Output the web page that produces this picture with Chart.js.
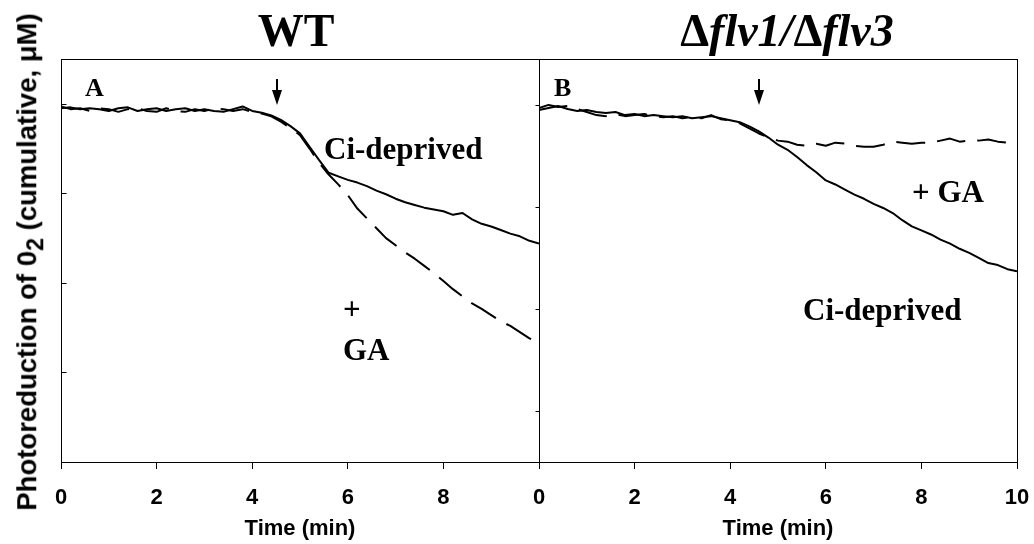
<!DOCTYPE html>
<html>
<head>
<meta charset="utf-8">
<script src="https://cdn.jsdelivr.net/npm/chart.js@4.4.1/dist/chart.umd.min.js"></script>
<style>
  html, body { margin: 0; padding: 0; background: #fff; }
  #wrap { position: relative; width: 1034px; height: 544px; overflow: hidden; }
  canvas { position: absolute; top: 0; }
  #cv-wt { left: 0; }
  #cv-mut { left: 519px; }
  .lbl { position: absolute; white-space: nowrap; line-height: 1; color: #000;
         font-family: "Liberation Serif", "Times New Roman", serif; font-weight: bold; }
  .ttl { font-size: 46px; transform: translateX(-50%); }
  .note { font-size: 31px; }
  .panel { font-size: 26px; }
  #ylab { position: absolute; left: 27px; top: 262px; transform: translate(-50%, -50%) rotate(-90deg);
          font-family: "Liberation Sans", Arial, sans-serif; font-weight: bold; font-size: 27.5px;
          line-height: 1; white-space: nowrap; color: #000; }
  #ylab .sub { font-size: 0.85em; position: relative; top: 0.3em; }
</style>
</head>
<body>
<div id="wrap">
  <canvas id="cv-wt" width="560" height="544"></canvas>
  <canvas id="cv-mut" width="515" height="544"></canvas>

  <div id="ylab">Photoreduction of 0<span class="sub">2</span> (cumulative, μM)</div>
  <div class="lbl ttl" style="left:296px;top:8px">WT</div>
  <div class="lbl ttl" style="left:787px;top:8px">Δ<i>flv1/</i>Δ<i>flv3</i></div>
  <div class="lbl panel" style="left:85px;top:75px">A</div>
  <div class="lbl panel" style="left:554px;top:75px">B</div>
  <div class="lbl note" style="left:324px;top:133px">Ci-deprived</div>
  <div class="lbl note" style="left:343px;top:293px">+</div>
  <div class="lbl note" style="left:343px;top:334px">GA</div>
  <div class="lbl note" style="left:912px;top:176px">+ GA</div>
  <div class="lbl note" style="left:803px;top:294px">Ci-deprived</div>
</div>

<script>
// time axis (min)
const timeMin = [0, 0.2, 0.4, 0.6, 0.8, 1, 1.2, 1.4, 1.6, 1.8, 2, 2.2, 2.4, 2.6, 2.8, 3, 3.2, 3.4, 3.6, 3.8,
  4, 4.2, 4.4, 4.6, 4.8, 5, 5.2, 5.4, 5.6, 5.8, 6, 6.2, 6.4, 6.6, 6.8, 7, 7.2, 7.4, 7.6, 7.8,
  8, 8.2, 8.4, 8.6, 8.8, 9, 9.2, 9.4, 9.6, 9.8, 10];

// WT panel (A)
const wtCiDeprived = [3.95, 3.96, 3.94, 3.95, 3.94, 3.92, 3.95, 3.96, 3.92, 3.94, 3.95, 3.92, 3.94, 3.95, 3.92, 3.94, 3.92, 3.91, 3.94, 3.97,
  3.92, 3.90, 3.87, 3.82, 3.75, 3.67, 3.52, 3.37, 3.23, 3.19, 3.15, 3.12, 3.08, 3.03, 2.99, 2.94, 2.90, 2.87, 2.84, 2.82,
  2.80, 2.76, 2.78, 2.71, 2.66, 2.63, 2.59, 2.55, 2.52, 2.47, 2.44];
const wtGA = [3.97, 3.94, 3.95, 3.92, 3.95, 3.94, 3.91, 3.94, 3.95, 3.92, 3.91, 3.95, 3.92, 3.91, 3.94, 3.92, 3.95, 3.94, 3.92, 3.94,
  3.91, 3.89, 3.86, 3.80, 3.73, 3.65, 3.50, 3.34, 3.21, 3.10, 2.98, 2.83, 2.72, 2.61, 2.50, 2.42, 2.34, 2.27, 2.19, 2.11,
  2.02, 1.93, 1.85, 1.77, 1.71, 1.64, 1.57, 1.52, 1.45, 1.38, 1.34];

// flv1/flv3 panel (B)
const mutCiDeprived = [2.95, 2.97, 2.99, 2.96, 2.94, 2.95, 2.93, 2.92, 2.93, 2.90, 2.91, 2.89, 2.90, 2.89, 2.88, 2.89, 2.87, 2.88, 2.89, 2.87,
  2.85, 2.83, 2.79, 2.74, 2.68, 2.61, 2.56, 2.49, 2.41, 2.34, 2.26, 2.22, 2.17, 2.12, 2.08, 2.03, 1.99, 1.94, 1.87, 1.81,
  1.77, 1.73, 1.68, 1.64, 1.59, 1.55, 1.50, 1.45, 1.43, 1.39, 1.37];
const mutGA = [2.97, 3.00, 2.98, 2.99, 2.96, 2.93, 2.90, 2.89, 2.91, 2.89, 2.90, 2.91, 2.89, 2.88, 2.89, 2.87, 2.88, 2.87, 2.90, 2.86,
  2.85, 2.82, 2.77, 2.72, 2.68, 2.65, 2.64, 2.61, 2.60, 2.62, 2.60, 2.63, 2.62, 2.60, 2.59, 2.59, 2.61, 2.64, 2.63, 2.62,
  2.63, 2.63, 2.65, 2.67, 2.64, 2.65, 2.65, 2.66, 2.64, 2.63, 2.62];

// y tick marks (unlabelled) and time of addition (arrow)
const wtYTicks = [1, 2, 3, 4];
const mutYTicks = [0, 1, 2, 3];
const xTicks = [0, 2, 4, 6, 8, 10];
const wtArrow = 4.52;
const mutArrow = 4.6;

const sansFont = '"Liberation Sans", Arial, sans-serif';

// box round plot area, y tick marks, arrow
const framePlugin = {
  id: 'frame',
  afterDatasetsDraw(chart, args, o) {
    const { ctx, chartArea: a, scales } = chart;
    ctx.save();
    ctx.strokeStyle = '#000';
    ctx.lineWidth = 1;
    ctx.strokeRect(a.left + 0.5, a.top + 0.5, a.right - a.left, a.bottom - a.top);
    ctx.beginPath();
    o.yTicks.forEach(v => {
      const y = Math.round(scales.y.getPixelForValue(v)) + 0.5;
      ctx.moveTo(a.left + 0.5, y);
      ctx.lineTo(a.left + 0.5 + o.tickLen, y);
    });
    ctx.stroke();

    const x = Math.round(scales.x.getPixelForValue(o.arrow));
    ctx.lineWidth = 2;
    ctx.beginPath();
    ctx.moveTo(x, 79);
    ctx.lineTo(x, 94);
    ctx.stroke();
    ctx.fillStyle = '#000';
    ctx.beginPath();
    ctx.moveTo(x - 5, 90);
    ctx.lineTo(x + 5, 90);
    ctx.lineTo(x, 105);
    ctx.closePath();
    ctx.fill();
    ctx.restore();
  }
};

function makePanel(id, pad, yMin, yMax, solid, dashed, yTicks, tickLen, arrow, hideLast) {
  return new Chart(document.getElementById(id), {
    type: 'line',
    data: {
      datasets: [
        { data: timeMin.map((t, i) => ({ x: t, y: solid[i] })), borderColor: '#000', borderWidth: 2,
          pointRadius: 0, tension: 0, borderJoinStyle: 'round' },
        { data: timeMin.map((t, i) => ({ x: t, y: dashed[i] })), borderColor: '#000', borderWidth: 2,
          pointRadius: 0, tension: 0, borderDash: [29, 12], borderJoinStyle: 'round' }
      ]
    },
    options: {
      responsive: false,
      animation: false,
      devicePixelRatio: 1,
      layout: { padding: pad },
      plugins: {
        legend: { display: false },
        tooltip: { enabled: false },
        frame: { yTicks: yTicks, tickLen: tickLen, arrow: arrow }
      },
      scales: {
        x: {
          type: 'linear', min: 0, max: 10,
          afterBuildTicks: s => { s.ticks = xTicks.map(v => ({ value: v })); },
          afterFit: s => { s.height = 82; s.paddingLeft = 0; s.paddingRight = 0; },
          border: { display: false },
          grid: { drawOnChartArea: false, drawTicks: true, tickLength: 7, color: '#000', lineWidth: 1 },
          ticks: {
            color: '#000', padding: 16, maxRotation: 0, autoSkip: false,
            font: { family: sansFont, size: 22, weight: 'bold' },
            callback: v => (hideLast && v === 10) ? '' : v
          },
          title: {
            display: true, text: 'Time (min)', color: '#000',
            font: { family: sansFont, size: 22, weight: 'bold' },
            padding: { top: 0, bottom: 2 }
          }
        },
        y: { display: false, min: yMin, max: yMax }
      }
    },
    plugins: [framePlugin]
  });
}

makePanel('cv-wt', { left: 61, top: 59, right: 21, bottom: 0 }, 0, 4.5, wtCiDeprived, wtGA, wtYTicks, 5, wtArrow, true);
makePanel('cv-mut', { left: 20, top: 59, right: 17, bottom: 0 }, -0.5, 3.45, mutCiDeprived, mutGA, mutYTicks, -4, mutArrow, false);
</script>
</body>
</html>
